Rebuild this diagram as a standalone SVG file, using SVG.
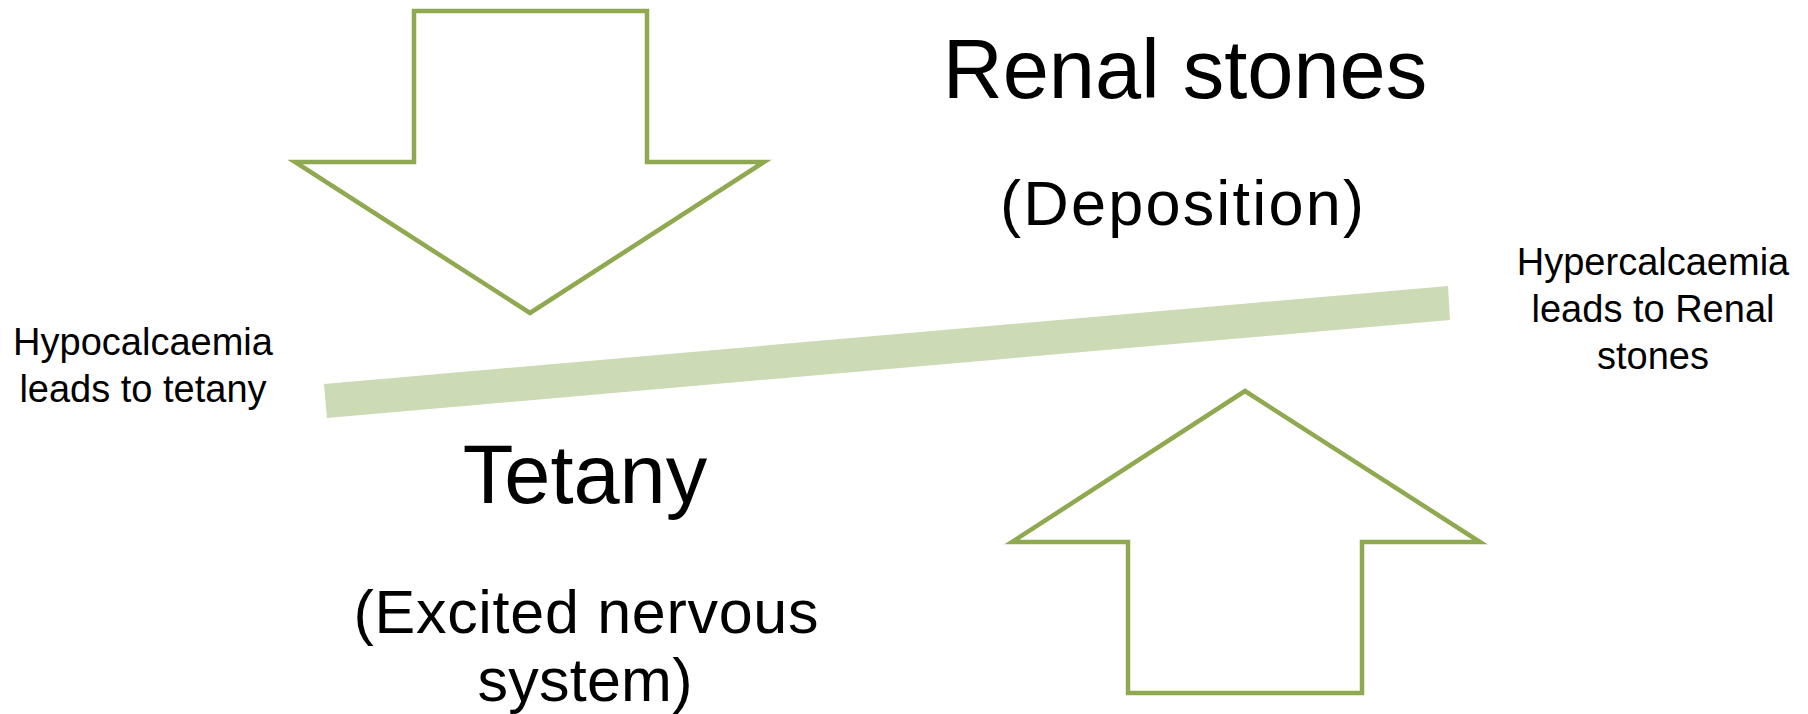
<svg xmlns="http://www.w3.org/2000/svg" width="1808" height="714" viewBox="0 0 1808 714">
<style>
.arrow{fill:#FFFFFF;stroke:#8EA94F;stroke-width:4.5;stroke-linejoin:miter}
.bar{fill:#CCDAB5}
.t{font-family:"Liberation Sans",Arial,sans-serif;fill:#000000;text-anchor:middle}
.big{font-size:83px}
.mid{font-size:63px}
.mid2{font-size:61px}
.small{font-size:38px}
</style>
<rect width="1808" height="714" fill="#FFFFFF"/>
<g id="down-arrow">
<polygon class="arrow" points="414,11 647,11 647,162 764,162 530,313 295,162 414,162"/>
</g>
<g id="up-arrow">
<polygon class="arrow" points="1245,391 1480,542 1362,542 1362,693 1128,693 1128,542 1012,542"/>
</g>
<g id="seesaw-bar">
<polygon class="bar" points="324,384 1448,286 1450,320 327,418"/>
</g>
<g id="renal-stones">
<text class="t big" x="1185" y="98">Renal stones</text>
<text class="t mid" x="1182" y="225" textLength="364" lengthAdjust="spacing">(Deposition)</text>
</g>
<g id="tetany">
<text class="t big" x="585" y="503">Tetany</text>
<text class="t mid2" x="586" y="633" textLength="465" lengthAdjust="spacing">(Excited nervous</text>
<text class="t mid2" x="585" y="701" textLength="215" lengthAdjust="spacing">system)</text>
</g>
<g id="hypocalcaemia-label">
<text class="t small" x="143" y="355">Hypocalcaemia</text>
<text class="t small" x="143" y="402">leads to tetany</text>
</g>
<g id="hypercalcaemia-label">
<text class="t small" x="1653" y="275">Hypercalcaemia</text>
<text class="t small" x="1653" y="322">leads to Renal</text>
<text class="t small" x="1653" y="369">stones</text>
</g>
<g id="connectors"></g>
</svg>
